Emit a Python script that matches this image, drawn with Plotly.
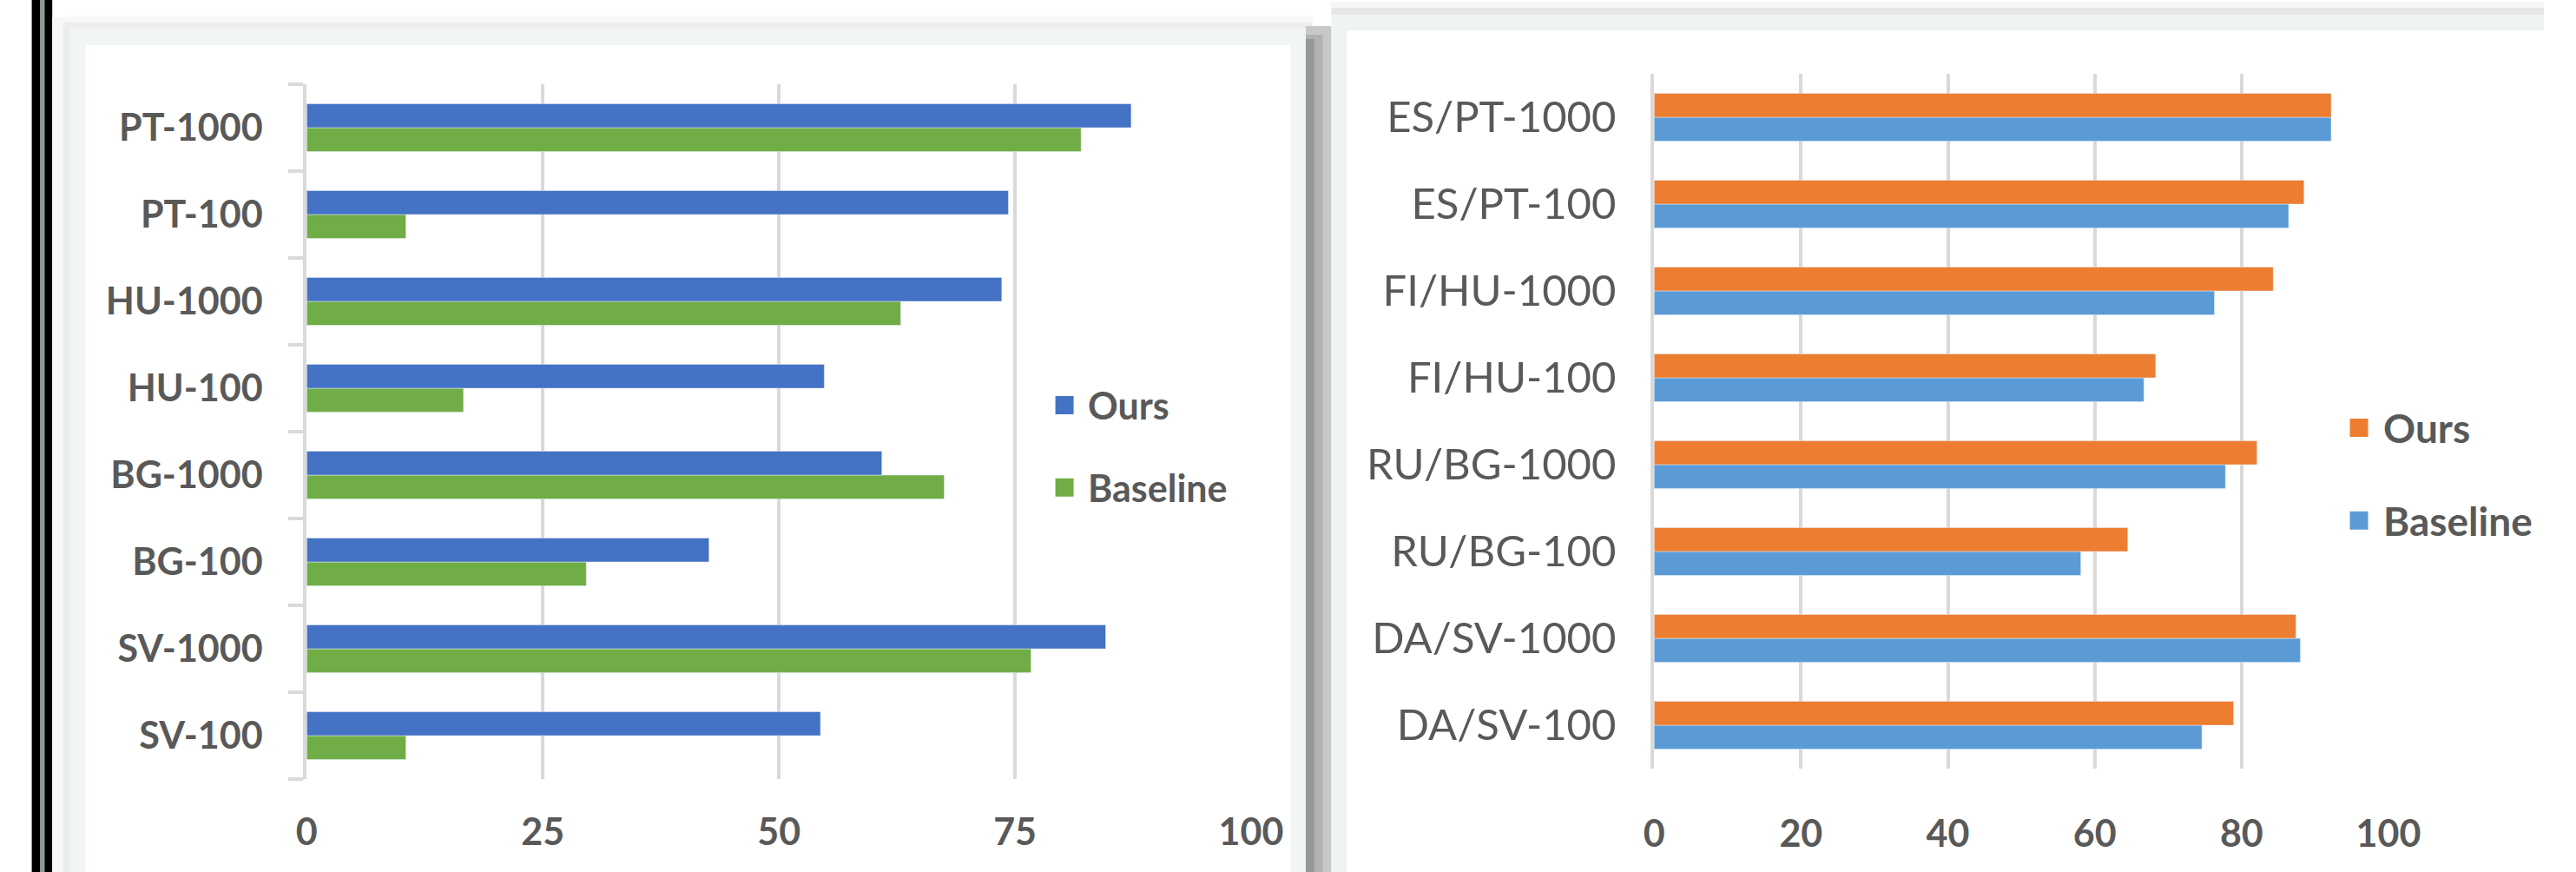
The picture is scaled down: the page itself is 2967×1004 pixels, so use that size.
import plotly.graph_objects as go

# ---------------- data ----------------
cats_left = ["PT-1000", "PT-100", "HU-1000", "HU-100", "BG-1000", "BG-100", "SV-1000", "SV-100"]
ours_left = [87.3, 74.3, 73.6, 54.8, 60.9, 42.6, 84.6, 54.4]
base_left = [82.0, 10.5, 62.9, 16.6, 67.5, 29.6, 76.7, 10.5]

cats_right = ["ES/PT-1000", "ES/PT-100", "FI/HU-1000", "FI/HU-100",
              "RU/BG-1000", "RU/BG-100", "DA/SV-1000", "DA/SV-100"]
ours_right = [92.2, 88.5, 84.3, 68.3, 82.1, 64.5, 87.4, 78.9]
base_right = [92.2, 86.4, 76.3, 66.7, 77.8, 58.1, 88.0, 74.6]

series_names = ["Ours", "Baseline"]
ticks_left = [0, 25, 50, 75, 100]
ticks_right = [0, 20, 40, 60, 80, 100]

# ---------------- style ----------------
W, H = 2967, 1004
FONT = "Lato"
TXT = "#595959"
GRID = "#d9d9d9"
C_OURS_L, C_BASE_L = "#4472C4", "#70AD47"
C_OURS_R, C_BASE_R = "#ED7D31", "#5B9BD5"


def px(x):
    return x / W


def py(y):
    return 1 - y / H


fig = go.Figure()

# Left chart (Baseline first so that Ours sits on top within a category)
fig.add_trace(go.Bar(y=cats_left, x=base_left, orientation="h", name=series_names[1],
                     marker=dict(color=C_BASE_L), showlegend=False,
                     xaxis="x", yaxis="y"))
fig.add_trace(go.Bar(y=cats_left, x=ours_left, orientation="h", name=series_names[0],
                     marker=dict(color=C_OURS_L), showlegend=False,
                     xaxis="x", yaxis="y"))
# Right chart
fig.add_trace(go.Bar(y=cats_right, x=base_right, orientation="h", name=series_names[1],
                     marker=dict(color=C_BASE_R), showlegend=False,
                     xaxis="x2", yaxis="y2"))
fig.add_trace(go.Bar(y=cats_right, x=ours_right, orientation="h", name=series_names[0],
                     marker=dict(color=C_OURS_R), showlegend=False,
                     xaxis="x2", yaxis="y2"))

# legend entries (square swatches)
for name, col, leg, ax, grp in [
    (series_names[0], C_OURS_L, "legend", ("x", "y"), "a"),
    (series_names[1], C_BASE_L, "legend", ("x", "y"), "b"),
    (series_names[0], C_OURS_R, "legend2", ("x2", "y2"), "c"),
    (series_names[1], C_BASE_R, "legend2", ("x2", "y2"), "d"),
]:
    fig.add_trace(go.Scatter(x=[None], y=[None], mode="markers", name=name,
                             marker=dict(symbol="square", size=16, color=col,
                                         line=dict(color=col, width=5)),
                             legend=leg, legendgroup=grp, showlegend=True,
                             xaxis=ax[0], yaxis=ax[1], hoverinfo="skip"))

# ---------------- background panels ----------------
shapes = []


def rect(x0, y0, x1, y1, color):
    shapes.append(dict(type="rect", xref="paper", yref="paper",
                       x0=px(x0), x1=px(x1), y0=py(y1), y1=py(y0),
                       fillcolor=color, line=dict(width=0), layer="below"))


# double black line at far left
rect(25, 0, 35, H, "#000000")
rect(35, 0, 40, H, "#8a9898")
rect(40, 0, 49, H, "#000000")
# soft shadows
rect(49, 20, 70, H, "#f7f7f7")
rect(62, 26, 70, H, "#ececec")
rect(70, 18, 1525, 33, "#f7f7f7")
rect(70, 26, 1525, 33, "#ededed")
rect(1547, 2, W, 17, "#f6f6f6")
rect(1547, 9, W, 17, "#e6e6e6")
rect(1517, 30, 1547, H, "#c8c8c8")
rect(1517, 40, 1537, H, "#b2b2b2")
rect(1517, 45, 1527, H, "#989898")
# left panel
rect(70, 33, 1517, H, "#f2f5f5")
rect(88, 52, 1499, H, "#ffffff")
# right panel
rect(1547, 17, W, H, "#f0f3f3")
rect(1565, 35, W, H, "#ffffff")

tick_font_b = dict(family=FONT, size=43, color=TXT, weight="bold")

fig.update_layout(
    width=W, height=H,
    margin=dict(l=0, r=0, t=0, b=0),
    paper_bgcolor="#ffffff",
    plot_bgcolor="rgba(0,0,0,0)",
    barmode="group",
    bargap=0.45,
    bargroupgap=0,
    shapes=shapes,
    font=dict(family=FONT, color=TXT),
    xaxis=dict(domain=[px(347), px(1453)], range=[0, 100], tickvals=ticks_left,
               showgrid=True, gridcolor=GRID, gridwidth=4, zeroline=False,
               showline=False, ticks="", tickfont=tick_font_b,
               ticklabelstandoff=32, anchor="y", fixedrange=True),
    yaxis=dict(domain=[py(897), py(97)], type="category",
               categoryorder="array", categoryarray=cats_left[::-1],
               showgrid=False, showline=True, linecolor=GRID, linewidth=4,
               ticks="outside", tickson="boundaries", ticklen=17, tickwidth=4,
               tickcolor=GRID, tickfont=tick_font_b, ticklabelstandoff=38,
               anchor="x", fixedrange=True),
    xaxis2=dict(domain=[px(1925), px(2785)], range=[0, 100], tickvals=ticks_right,
                showgrid=True, gridcolor=GRID, gridwidth=4, zeroline=False,
                showline=False, ticks="", tickfont=tick_font_b,
                ticklabelstandoff=46, anchor="y2", fixedrange=True),
    yaxis2=dict(domain=[py(885), py(85)], type="category",
                categoryorder="array", categoryarray=cats_right[::-1],
                showgrid=False, showline=True, linecolor=GRID, linewidth=4,
                ticks="", tickfont=dict(family=FONT, size=49, color=TXT),
                ticklabelstandoff=30, anchor="x2", fixedrange=True),
    legend=dict(x=px(1207), y=py(432), xanchor="left", yanchor="top",
                bgcolor="rgba(0,0,0,0)", borderwidth=0, tracegroupgap=36,
                itemwidth=44,
                font=dict(family=FONT, size=43, color=TXT, weight="bold")),
    legend2=dict(x=px(2722), y=py(456), xanchor="left", yanchor="top",
                 bgcolor="rgba(0,0,0,0)", borderwidth=0, tracegroupgap=44,
                 itemwidth=46,
                 font=dict(family=FONT, size=46, color=TXT, weight="bold")),
)

fig.write_html(
    "out.html",
    config={"displayModeBar": False},
    post_script="document.body.style.margin='0';document.body.style.overflow='hidden';",
)
